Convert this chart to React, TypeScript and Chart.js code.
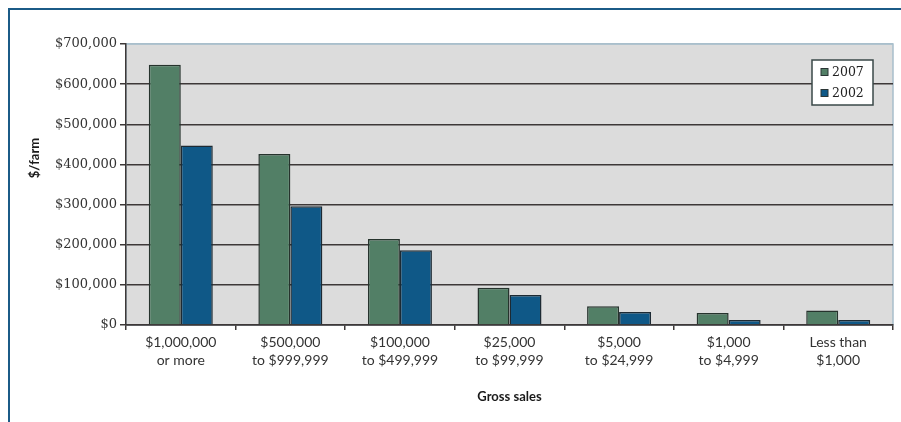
import React, { useEffect, useRef } from "react";
import { Chart, registerables } from "chart.js";

Chart.register(...registerables);

const categories: string[][] = [
  ["$1,000,000", "or more"],
  ["$500,000", "to $999,999"],
  ["$100,000", "to $499,999"],
  ["$25,000", "to $99,999"],
  ["$5,000", "to $24,999"],
  ["$1,000", "to $4,999"],
  ["Less than", "$1,000"],
];
const seriesLabels = ["2007", "2002"];
const values2007 = [648000, 426000, 214000, 93000, 47000, 30000, 36000];
const values2002 = [447000, 296000, 186000, 75000, 32500, 12500, 12500];
const yMin = 0;
const yMax = 700000;
const yStep = 100000;
const yTitle = "$/farm";
const xTitle = "Gross sales";

const GREEN = "#527f66";
const BLUE = "#0f5887";
const GRID = "#3d3838";
const LIGHT_BORDER = "#a9bfcc";

const plotBg = {
  id: "plotBg",
  beforeDraw(chart: any) {
    const { ctx, chartArea: a } = chart;
    ctx.save();
    ctx.fillStyle = "#dcdcdc";
    ctx.fillRect(a.left, a.top, a.right - a.left, a.bottom - a.top);
    ctx.strokeStyle = LIGHT_BORDER;
    ctx.lineWidth = 1.5;
    ctx.strokeRect(a.left, a.top, a.right - a.left, a.bottom - a.top);
    ctx.restore();
  },
};

const boxLegend = {
  id: "boxLegend",
  afterDraw(chart: any) {
    const { ctx, chartArea: a } = chart;
    const w = 61;
    const h = 45;
    const x = a.right - 20 - w;
    const y = a.top + 16;
    ctx.save();
    ctx.fillStyle = "#ffffff";
    ctx.fillRect(x, y, w, h);
    ctx.strokeStyle = "#3a4848";
    ctx.lineWidth = 1.5;
    ctx.strokeRect(x, y, w, h);
    chart.data.datasets.forEach((ds: any, i: number) => {
      const cy = y + 12 + i * 21;
      ctx.fillStyle = ds.backgroundColor;
      ctx.fillRect(x + 9, cy - 3.5, 7, 7);
      ctx.strokeStyle = "#2a3535";
      ctx.lineWidth = 1;
      ctx.strokeRect(x + 9, cy - 3.5, 7, 7);
      ctx.fillStyle = "#222";
      ctx.font = "12.5px 'DejaVu Serif'";
      ctx.textBaseline = "middle";
      ctx.textAlign = "left";
      ctx.fillText(ds.label, x + 20, cy + 0.5);
    });
    ctx.restore();
  },
};

const yTitlePlugin = {
  id: "yTitlePlugin",
  afterDraw(chart: any) {
    const { ctx } = chart;
    ctx.save();
    ctx.translate(35, 158);
    ctx.rotate(-Math.PI / 2);
    ctx.fillStyle = "#1a1a1a";
    ctx.font = "bold 13px Lato";
    ctx.textAlign = "center";
    ctx.textBaseline = "middle";
    ctx.fillText(yTitle, 0, 0);
    ctx.restore();
  },
};

export default function App() {
  const ref = useRef<HTMLCanvasElement | null>(null);
  useEffect(() => {
    if (!ref.current) return;
    const chart = new Chart(ref.current, {
      type: "bar",
      data: {
        labels: categories,
        datasets: [
          {
            label: seriesLabels[0],
            data: values2007,
            backgroundColor: GREEN,
            borderColor: "#26332d",
            borderWidth: 1.5,
            categoryPercentage: 0.584,
            barPercentage: 1,
          },
          {
            label: seriesLabels[1],
            data: values2002,
            backgroundColor: BLUE,
            borderColor: "#1d2a33",
            borderWidth: 1.5,
            categoryPercentage: 0.584,
            barPercentage: 1,
          },
        ],
      },
      options: {
        responsive: false,
        animation: false,
        layout: { padding: { top: 44, right: 8, left: 0, bottom: 0 } },
        plugins: {
          legend: { display: false },
          tooltip: { enabled: false },
        },
        scales: {
          x: {
            offset: true,
            grid: {
              offset: true,
              drawOnChartArea: false,
              drawTicks: true,
              tickLength: 5,
              color: GRID,
              lineWidth: 1.5,
            },
            border: { color: GRID, width: 1.5 },
            ticks: {
              color: "#333",
              font: { family: "Lato", size: 14, lineHeight: 1.32 },
              padding: 3,
              maxRotation: 0,
              autoSkip: false,
            },
            title: {
              display: true,
              text: xTitle,
              color: "#1a1a1a",
              font: { family: "Lato", size: 13, weight: "bold" },
              padding: { top: 0, bottom: 17 },
            },
            afterFit: (scale: any) => {
              scale.height = 97;
            },
          },
          y: {
            min: yMin,
            max: yMax,
            ticks: {
              stepSize: yStep,
              color: "#333",
              font: { family: "DejaVu Serif", size: 13 },
              padding: 3,
              callback: (v: any) => "$" + Number(v).toLocaleString("en-US"),
            },
            grid: {
              color: (c: any) =>
                c.tick && c.tick.value === yMax ? LIGHT_BORDER : GRID,
              tickColor: GRID,
              lineWidth: 1.5,
              tickLength: 6,
            },
            border: { color: GRID, width: 1.5 },
            afterFit: (scale: any) => {
              scale.width = 126;
            },
          },
        },
      },
      plugins: [plotBg, boxLegend, yTitlePlugin],
    });
    return () => chart.destroy();
  }, []);

  return (
    <div
      style={{
        position: "absolute",
        left: 0,
        top: 0,
        width: 901,
        height: 422,
        background: "#ffffff",
      }}
    >
      <canvas ref={ref} width={901} height={422} style={{ display: "block" }} />
      <div
        style={{
          position: "absolute",
          left: 8,
          top: 8,
          right: 0,
          bottom: 0,
          borderTop: "2.5px solid #1b5b87",
          borderLeft: "2.5px solid #1b5b87",
          pointerEvents: "none",
        }}
      />
    </div>
  );
}
